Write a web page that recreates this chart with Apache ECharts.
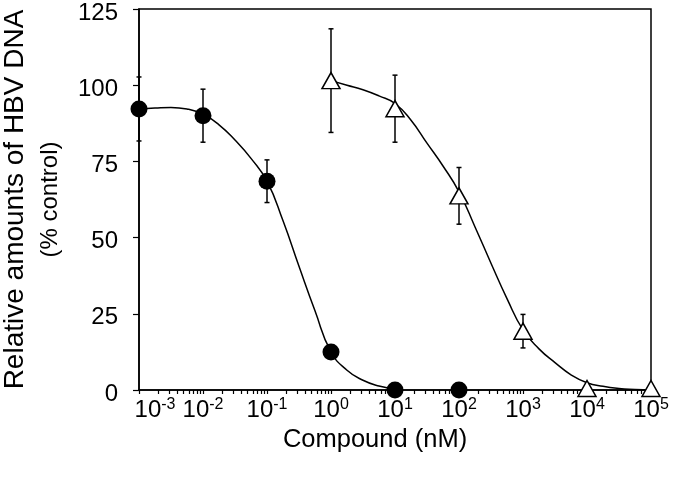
<!DOCTYPE html>
<html>
<head>
<meta charset="utf-8">
<script src="https://cdn.jsdelivr.net/npm/echarts@6/dist/echarts.min.js"></script>
<style>html,body{margin:0;padding:0;background:#fff;}#c{width:675px;height:477px;}</style>
</head>
<body>
<div id="c"></div>
<script>
// Tick values (nM) for the log x axis
const xMajorTicks = [0.001, 0.01, 0.1, 1, 10, 100, 1000, 10000, 100000];
const yTicks = [0, 25, 50, 75, 100, 125];

// Filled circles
const circleX = [0.001, 0.01, 0.1, 1, 10, 100];
const circleY = [92.2, 90, 68.5, 12.5, 0, 0];
const circleErr = [10.5, 8.7, 7, 1.5, 0, 0];

// Open triangles
const triX = [1, 10, 100, 1000, 10000, 100000];
const triY = [101.5, 92.3, 63.7, 19.3, 0.5, 0.5];
const triErr = [17, 11, 9.3, 5.5, 0, 0];

// Fitted curves (quarter-decade steps)
const circleCurveX = [0.001, 0.00178, 0.00316, 0.00562, 0.01, 0.0178, 0.0316, 0.0562, 0.1, 0.178, 0.316, 0.562, 1, 1.78, 3.16, 5.62, 10];
const circleCurveY = [92.2, 92.5, 92.7, 92.2, 90.5, 87, 82, 76, 68.5, 55.5, 40.6, 26, 12.5, 6.5, 3.2, 1.3, 0.3];
const triCurveX = [1, 1.78, 3.16, 5.62, 10, 17.8, 31.6, 56.2, 100, 178, 316, 562, 1000, 1778, 3162, 5623, 10000, 17783, 31623, 56234, 100000];
const triCurveY = [101.5, 100, 98.5, 96.5, 94, 88.5, 81, 73.5, 65, 53.5, 41.6, 30, 19.7, 13.5, 9, 5, 2.4, 1.2, 0.5, 0.2, 0];

const FONT = '"Liberation Sans", Arial, Helvetica, sans-serif';

// minor tick positions 2..9 per decade
const xAllTicks = [];
for (let i = 0; i < xMajorTicks.length; i++) {
  xAllTicks.push(xMajorTicks[i]);
  if (i < xMajorTicks.length - 1) {
    for (let k = 2; k <= 9; k++) xAllTicks.push(+(k * xMajorTicks[i]).toPrecision(6));
  }
}

const zip = (a, b, c) => a.map((v, i) => c ? [v, b[i], c[i]] : [v, b[i]]);

function errRender(params, api) {
  const x = api.value(0), y = api.value(1), e = api.value(2);
  if (!e) return null;
  const top = api.coord([x, y + e]);
  const bot = api.coord([x, y - e]);
  const cap = 2.5;
  const st = { stroke: '#000', lineWidth: 1.5 };
  return {
    type: 'group',
    children: [
      { type: 'line', shape: { x1: top[0], y1: top[1], x2: bot[0], y2: bot[1] }, style: st },
      { type: 'line', shape: { x1: top[0] - cap, y1: top[1], x2: top[0] + cap, y2: top[1] }, style: st },
      { type: 'line', shape: { x1: bot[0] - cap, y1: bot[1], x2: bot[0] + cap, y2: bot[1] }, style: st }
    ]
  };
}

const chart = echarts.init(document.getElementById('c'), null, { renderer: 'canvas' });
chart.setOption({
  animation: false,
  backgroundColor: '#fff',
  grid: { left: 139, right: 24, top: 9, bottom: 87, containLabel: false, outerBoundsMode: 'none', show: true, borderColor: '#000', borderWidth: 1.5, backgroundColor: 'transparent' },
  xAxis: {
    type: 'log', logBase: 10, min: 0.001, max: 100000,
    axisLine: { show: true, lineStyle: { color: '#000', width: 1.5 } },
    axisTick: { show: true, inside: false, length: 4, customValues: xAllTicks, lineStyle: { color: '#000', width: 1.2 } },
    minorTick: { show: false },
    splitLine: { show: false },
    axisLabel: {
      customValues: xMajorTicks,
      margin: 7,
      formatter: function (v) {
        const ex = Math.round(Math.log10(v));
        const first = ex === -3;
        return (first ? '{bf|10}' : '{b|10}') + '{s|' + ex + '}';
      },
      rich: {
        b: { fontFamily: FONT, fontSize: 24, color: '#000', lineHeight: 26 },
        bf: { fontFamily: FONT, fontSize: 24, color: '#000', lineHeight: 26, padding: [0, 0, 0, 32] },
        s: { fontFamily: FONT, fontSize: 16, color: '#000', lineHeight: 16, verticalAlign: 'top' }
      }
    },
    name: 'Compound (nM)',
    nameLocation: 'middle',
    nameGap: 32,
    nameTextStyle: { fontFamily: FONT, fontSize: 25.5, color: '#000', padding: [0, 40, 0, 0] }
  },
  yAxis: {
    type: 'value', min: 0, max: 125, interval: 25,
    axisLine: { show: true, lineStyle: { color: '#000', width: 1.5 } },
    axisTick: { show: true, inside: false, length: 6, lineStyle: { color: '#000', width: 1.2 } },
    splitLine: { show: false },
    axisLabel: {
      margin: 21, customValues: yTicks,
      formatter: function (v) { return '{v|' + v + '}'; },
      rich: { v: { fontFamily: FONT, fontSize: 24, color: '#000', lineHeight: 26, padding: [8, 0, 0, 0] } }
    },
    name: '{a|Relative amounts of HBV DNA}\n{b|(% control)}',
    nameLocation: 'middle',
    nameRotate: 90,
    nameGap: 75,
    nameTextStyle: {
      rich: {
        a: { fontFamily: FONT, fontSize: 28, color: '#000', lineHeight: 42 },
        b: { fontFamily: FONT, fontSize: 24, color: '#000', lineHeight: 28 }
      }
    }
  },
  series: [
    { type: 'custom', name: 'circleErr', data: zip(circleX, circleY, circleErr), renderItem: errRender, encode: { x: 0, y: 1 }, z: 1, silent: true },
    { type: 'custom', name: 'triErr', data: zip(triX, triY, triErr), renderItem: errRender, encode: { x: 0, y: 1 }, z: 1, silent: true },
    { type: 'line', data: zip(circleCurveX, circleCurveY), smooth: 0.5, showSymbol: false, symbol: 'none', lineStyle: { color: '#000', width: 1.5 }, z: 2 },
    { type: 'line', data: zip(triCurveX, triCurveY), smooth: 0.5, showSymbol: false, symbol: 'none', lineStyle: { color: '#000', width: 1.5 }, z: 2 },
    { type: 'scatter', data: zip(circleX, circleY), symbol: 'circle', symbolSize: 17, itemStyle: { color: '#000', opacity: 1 }, z: 3, clip: false },
    { type: 'scatter', data: zip(triX, triY), symbol: 'triangle', symbolSize: [18, 16], itemStyle: { color: '#fff', borderColor: '#000', borderWidth: 1.5, opacity: 1 }, z: 3, clip: false }
  ]
});
</script>
</body>
</html>
